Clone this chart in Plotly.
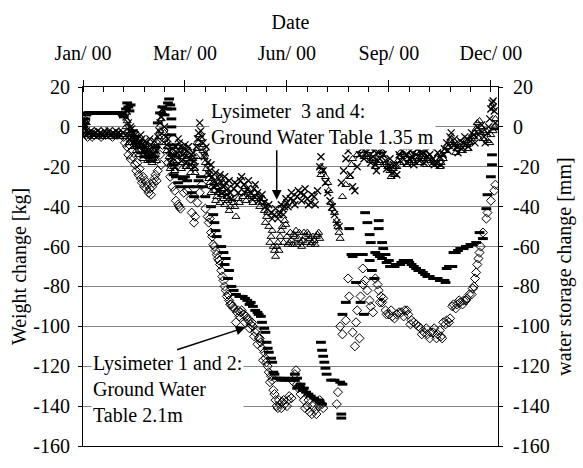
import plotly.graph_objects as go

# ---------------- data (day of year 2000, weight change in kg) ----------------
tick_days = [0, 90, 180, 270, 360]
tick_labels = ["Jan/ 00", "Mar/ 00", "Jun/ 00", "Sep/ 00", "Dec/ 00"]
y_ticks = [20, 0, -20, -40, -60, -80, -100, -120, -140, -160]
y_tick_labels = ["20", "0", "-20", "-40", "-60", "-80", "-100", "-120", "-140", "-160"]

# Lysimeter 1 (open diamonds)
lys1_day = [0, 1, 1, 2, 2, 3, 4, 6, 8, 10, 12, 14, 16, 18, 20, 22, 24, 26, 28, 30, 32, 34, 36,
            37, 39, 40, 41, 42, 43, 44, 46, 47, 48, 49, 50, 51, 52, 53, 54, 55, 56, 57, 58, 59, 60,
            61, 62, 63, 64, 65, 66, 68, 69, 70, 71, 72, 75, 77, 79, 81, 82, 84, 85, 86, 89, 92, 95,
            96, 98, 99, 101, 103, 105, 108, 110, 111, 113, 115, 116, 118, 119, 121, 122, 124, 126,
            128, 129, 131, 132, 135, 137, 139, 142, 144, 146, 148, 150, 152, 155, 157, 158, 160,
            161, 163, 164, 166, 167, 168, 170, 171, 174, 176, 178, 181, 184,
            187, 189, 192, 195, 198, 202, 205, 208, 211, 224, 225,
            227, 229, 232, 234, 235, 238, 240, 241, 242, 244, 245, 247, 247, 249, 251, 253, 254, 256,
            260, 261, 263, 264, 267, 270, 273, 277, 281, 284, 287, 290, 292, 296, 298, 301, 304, 307,
            310, 313, 316, 318, 321, 324, 327, 330, 333, 336, 339, 343, 344, 346, 347, 348, 350,
            351, 353, 356, 357, 360, 363, 364,
            112, 114, 117, 120, 123, 125, 127, 130, 133, 136, 138, 140, 143, 145, 147, 149, 151, 153,
            154, 156, 159, 162, 165, 169, 172, 173, 175, 177, 180, 182, 186, 188, 190, 193, 196, 199,
            200, 203, 206, 209, 212,
            258, 262, 265, 268, 272, 275, 279, 283, 286, 289, 294, 299, 303, 306, 309, 312, 315, 317,
            320, 323, 326, 329, 332, 335, 338, 341, 345, 349]
lys1_val = [0, 2, -2, 3, -3, -4, -5, -4, -5, -4, -3, -4, -5, -4, -4, -3, -4, -5, -4, -4, -3, -4, -5,
            -8, -10, -14, -9, -16, -12, -15, -19, -22, -18, -24, -21, -26, -28, -25, -30, -27, -31, -29, -33, -31, -34,
            -30, -28, -26, -24, -27, -22, -14, -19, -9, -2, -6, -18, -25, -30, -32, -37, -39, -40, -41, -33, -32, -36,
            -43, -48, -45, -38, -33, -29, -41, -45, -48, -53, -59, -60, -64, -66, -69, -72, -77, -82,
            -84, -87, -89, -90, -98, -92, -93, -94, -95, -97, -99, -100, -103, -106, -108, -111, -113,
            -116, -120, -123, -125, -127, -132, -137, -140, -139, -138, -139, -137, -136,
            -124, -129, -134, -137, -140, -144, -142, -140, -139, -139, -133,
            -100, -104, -97, -76, -85, -103, -110, -98, -92, -106, -85, -79, -71, -77, -82, -87, -90, -93,
            -79, -82, -85, -88, -92, -94, -95, -94, -93, -92, -94, -97, -98, -100, -101, -103, -104, -103,
            -101, -104, -105, -98, -97, -96, -89, -89, -88, -87, -86, -84, -81, -76, -73, -69, -63,
            -60, -53, -46, -43, -37, -32, -29,
            -46, -55, -62, -67, -75, -80, -85, -89, -91, -93, -95, -92, -98, -96, -101, -98, -105, -102,
            -109, -106, -117, -118, -128, -134, -141, -137, -141, -137, -140, -135, -128, -122, -131, -131, -141, -137,
            -143, -140, -144, -137, -141,
            -76, -88, -86, -94, -92, -96, -93, -95, -92, -99, -99, -104, -101, -106, -103, -106, -102, -106,
            -99, -98, -90, -91, -87, -89, -87, -84, -80, -66]

# Lysimeter 2 (black dashes)
lys2_day = [0, 1, 2, 3, 4, 5, 6, 7, 8, 9, 10, 11, 12, 13, 14, 15, 16, 17, 18, 19, 20, 21, 22, 23, 24,
            25, 26, 27, 28, 29, 30, 31, 32, 33, 34, 35, 36, 38, 39, 40, 41, 42,
            44, 46, 48, 50, 52, 54, 56, 58, 60, 62, 64, 66, 68, 70, 72, 74, 75, 76, 77, 78,
            78, 78, 78, 79, 79, 80, 80, 82, 84, 86, 88, 90, 92, 94, 96, 98, 100, 102, 104, 106, 108,
            113, 115, 116, 117, 118, 122, 124, 125, 126, 128, 131, 135, 141, 145, 148, 152, 155, 158,
            161, 162, 164, 167, 168, 171, 175, 181, 185, 189, 194,
            187, 189, 192, 195, 199, 204, 208, 211, 210, 211, 212, 213, 214, 215, 219, 222, 227, 229,
            228, 228, 229, 232, 237, 245, 241, 245, 248, 253, 255, 257,
            249, 251, 261, 261, 253, 254, 235, 238, 247, 264, 265, 267, 270,
            258, 264, 273, 275, 278, 281, 285, 288, 292, 296, 300, 304, 309, 313, 317, 320,
            321, 326, 327, 331, 336, 340, 344, 350, 353, 356, 357, 360, 361, 361, 364,
            129, 133, 138, 143, 147, 150, 154, 157, 160, 163, 166, 169, 173, 178, 183, 187, 191, 197,
            201, 206, 209,
            260, 262, 268, 271, 276, 280, 283, 287, 290, 294, 298, 302, 306, 311, 315, 319, 323, 329,
            333, 338, 342, 347]
lys2_val = [0, 2, 4, 6, 7, 7, 7, 7, 7, 7, 7, 7, 7, 7, 7, 7, 7, 7, 7, 7, 7, 7, 7, 7, 7,
            7, 7, 7, 7, 7, 7, 7, 7, 7, 7, 6, 5, 9, 12, 10, 8, 11,
            -2, -5, -8, -10, -13, -15, -12, -14, -17, -15, -10, 2, 7, 10, 6, 9, 12, 14, 11, 9,
            4, 0, -4, -9, -14, -19, -24, -25, -28, -30, -26, -25, -27, -30, -33, -35, -30, -27, -25, -30, -35,
            -40, -44, -48, -52, -55, -60, -63, -69, -66, -76, -80, -84, -85, -87, -88, -92, -94, -98,
            -103, -108, -113, -118, -123, -126, -127, -126, -127, -131, -132,
            -124, -126, -129, -131, -134, -136, -137, -139, -108, -112, -115, -118, -121, -124, -127, -127, -128, -129,
            -144, -146, -94, -88, -64, -64, -78, -88, -94, -67, -72, -76,
            -43, -48, -47, -51, -54, -58, -51, -65, -64, -58, -61, -64, -67,
            -63, -66, -70, -70, -69, -68, -67, -68, -70, -72, -73, -75, -76, -76, -77, -78,
            -71, -70, -63, -62, -61, -60, -59, -53, -56, -41, -34, -25, -19, -14, -1,
            -72, -82, -85, -86, -89, -90, -93, -95, -101, -111, -116, -124, -126, -127, -127, -127, -130, -133,
            -135, -137, -138,
            -64, -65, -68, -70, -69, -69, -67, -67, -69, -71, -72, -74, -75, -76, -77, -77, -70, -63,
            -61, -60, -59, -58]

# Lysimeter 3 (open triangles)
lys3_day = [0, 2, 3, 5, 7, 9, 11, 13, 15, 17, 19, 21, 23, 25, 27, 29, 31, 33, 35,
            38, 39, 40, 41, 42, 43, 44, 45, 46, 47, 48, 50, 52, 54, 56, 58, 60, 62, 64, 66, 68, 69, 70,
            72, 73, 74, 76, 78, 80, 82, 84, 86, 88, 90, 92, 94, 96, 98, 100, 102, 103, 104, 106, 108,
            110, 112, 114, 116, 118, 120, 122, 124, 126, 128, 130, 133, 135, 137, 140, 143, 146, 149,
            152, 155, 158, 160, 162, 164, 166, 168, 170, 172, 174, 176, 178, 180, 182, 184, 186, 188,
            190, 192, 194, 196, 198, 200, 202, 204, 206, 208, 210, 210, 214, 217, 219, 222, 225, 227,
            229, 232, 235, 237, 238, 242, 247, 250, 253, 256, 258, 261, 264, 268, 271, 275, 278, 281,
            284, 287, 290, 293, 296, 299, 301, 304, 307, 310, 313, 316, 318, 321, 324, 327, 330, 333,
            336, 339, 341, 344, 346, 348, 351, 354, 357, 360, 363, 364,
            41, 43, 45, 47, 49, 51, 53, 55, 57, 59, 61, 63, 65, 67,
            75, 77, 79, 81, 83, 85, 87, 89, 91, 93, 95, 97, 99, 101,
            105, 107, 109, 111, 113, 115, 117, 119, 121, 123, 125, 127, 129, 131, 134, 138, 141, 144,
            147, 150, 153, 156, 159, 161, 163, 165, 167, 169, 171, 173, 175, 177, 179, 181, 183, 185,
            187, 189, 191, 193, 195, 197, 199, 201, 203, 205, 207, 209, 211, 216, 220, 224, 226,
            248, 251, 254, 257, 260, 263, 266, 269, 272, 274, 277, 280, 283, 286, 289, 292, 295, 298,
            300, 303, 306, 309, 312, 315, 317, 320, 323, 326, 329, 332, 335, 338, 340, 343, 345, 347,
            350, 353, 356, 359, 362]
lys3_val = [0, -2, 2, -4, -3, -5, -4, -3, -4, -5, -4, -3, -4, -5, -4, -3, -4, -5, -4,
            0, 3, -2, -5, -3, -8, -6, -10, -7, -12, -9, -12, -10, -14, -11, -15, -12, -16, -14, -8, -2, 4, 7,
            -3, -8, -12, -15, -18, -20, -14, -10, -15, -18, -13, -16, -20, -18, -21, -15, -8, -4, -6, -12, -18,
            -24, -28, -30, -32, -35, -30, -34, -36, -33, -37, -40, -38, -45, -36, -33, -30, -32, -35,
            -33, -35, -38, -42, -45, -50, -55, -60, -65, -58, -55, -50, -47, -55, -58, -57, -54, -52,
            -56, -58, -57, -55, -53, -56, -58, -57, -55, -53, -24, -20, -25, -32, -38, -43, -50, -56,
            -35, -29, -25, -19, -16, -14, -12, -15, -12, -16, -20, -17, -14, -18, -22, -24, -17, -15,
            -14, -16, -17, -15, -16, -15, -14, -16, -17, -18, -19, -18, -16, -10, -7, -9, -11, -10,
            -9, -9, -8, -5, -3, 2, 0, -3, -7, -4, 0, 4,
            -8, -4, -6, -9, -14, -8, -16, -9, -17, -10, -18, -12, -17, -5,
            -10, -21, -14, -22, -17, -12, -21, -15, -20, -14, -23, -16, -23, -11,
            -9, -15, -21, -26, -33, -28, -37, -33, -38, -31, -39, -35, -42, -36, -40, -38, -35, -37,
            -34, -38, -36, -40, -36, -48, -43, -58, -52, -62, -60, -62, -52, -58, -49, -59, -53, -59,
            -55, -59, -53, -60, -53, -58, -54, -59, -55, -59, -54, -56, -22, -28, -41, -47, -53,
            -15, -14, -17, -16, -18, -12, -19, -20, -25, -21, -20, -13, -18, -19, -14, -18, -13, -18,
            -16, -19, -15, -19, -16, -20, -14, -12, -10, -8, -13, -8, -12, -7, -11, -6, -5, -1,
            3, -6, -2, -8, -2]

# Lysimeter 4 (crosses)
lys4_day = [0, 1, 1, 3, 5, 7, 9, 11, 13, 15, 17, 19, 21, 23, 25, 27, 29, 31, 33, 35,
            38, 39, 40, 41, 42, 43, 44, 45, 46, 47, 48, 50, 52, 54, 56, 58, 60, 62, 64, 66, 68, 70, 71,
            72, 73, 74, 76, 78, 80, 82, 84, 86, 88, 90, 92, 94, 96, 98, 100, 102, 103, 104, 106, 108,
            110, 112, 114, 116, 118, 120, 122, 124, 126, 128, 130, 133, 136, 139, 142, 145, 148, 151,
            154, 157, 160, 163, 166, 169, 172, 174, 176, 178, 180, 183, 186, 189, 192, 195, 198, 201,
            204, 207, 209, 210, 212, 214, 216, 218, 220, 222, 224, 226, 228, 230, 232, 234, 236, 238,
            240, 242, 244, 246, 250, 253, 256, 258, 261, 264, 267, 270, 273, 276, 279, 282, 285, 288,
            291, 294, 297, 300, 303, 306, 309, 312, 315, 318, 321, 324, 327, 330, 333, 336, 339, 342,
            345, 348, 351, 354, 357, 359, 361, 362, 363, 364,
            41, 43, 45, 47, 49, 51, 53, 55, 57, 59, 61, 63, 65, 67, 69,
            75, 77, 79, 81, 83, 85, 87, 89, 91, 93, 95, 97, 99, 101,
            105, 107, 109, 111, 113, 115, 117, 119, 121, 123, 125, 127, 129, 131, 134, 137, 140, 143,
            146, 149, 152, 155, 158, 161, 164, 167, 170, 173, 175, 177, 179, 181, 184, 187, 190, 193,
            196, 199, 202, 205,
            248, 251, 254, 257, 259, 262, 265, 268, 271, 274, 277, 280, 283, 286, 289, 292, 295, 298,
            301, 304, 307, 310, 313, 316, 319, 322, 325, 328, 331, 334, 337, 340, 343, 346, 349, 352,
            355, 358, 360, 362]
lys4_val = [0, 3, -3, -2, -3, -2, -4, -3, -2, -3, -4, -2, -3, -2, -4, -3, -2, -3, -4, -3,
            5, 8, 2, -2, 0, -5, -3, -7, -4, -9, -6, -8, -6, -10, -8, -12, -9, -13, -10, -5, 2, 9, 8,
            0, -5, -9, -12, -15, -16, -10, -6, -10, -14, -9, -12, -16, -14, -17, -10, -3, 2, -2, -8, -13,
            -18, -22, -25, -27, -29, -26, -28, -30, -28, -31, -33, -31, -29, -27, -29, -31, -33, -31,
            -33, -36, -38, -41, -43, -44, -46, -43, -41, -40, -38, -36, -37, -35, -33, -34, -36, -38,
            -35, -32, -20, -15, -22, -28, -33, -37, -40, -44, -48, -50, -28, -22, -16, -12, -24, -30,
            -32, -20, -14, -11, -13, -10, -15, -19, -13, -11, -17, -20, -23, -19, -14, -12, -14, -16,
            -15, -14, -17, -13, -12, -14, -16, -18, -15, -14, -8, -5, -9, -10, -7, -8, -6, -7,
            -4, 0, -2, -5, -3, 4, 12, 10, 8, 2,
            -6, -1, -3, -5, -10, -4, -12, -7, -14, -6, -15, -7, -12, -2, 5,
            -6, -18, -11, -20, -13, -8, -17, -11, -18, -10, -19, -13, -20, -6,
            -5, -15, -10, -24, -19, -30, -23, -32, -24, -33, -25, -34, -27, -36, -28, -33, -25, -33,
            -27, -36, -29, -37, -34, -40, -39, -46, -41, -44, -39, -44, -36, -40, -33, -39, -32, -37,
            -31, -39, -34, -39,
            -16, -9, -18, -12, -22, -16, -14, -21, -16, -19, -24, -17, -10, -18, -12, -19, -11, -13,
            -18, -15, -10, -19, -13, -19, -11, -12, -3, -6, -13, -11, -5, -10, -3, -8, -4, 1,
            -8, 0, 9, 13]

# ---------------- figure ----------------
FONT = "Liberation Serif, Times New Roman, serif"
fig = go.Figure()

fig.add_trace(go.Scatter(x=lys1_day, y=lys1_val, mode="markers", name="Lysimeter 1",
                         marker=dict(symbol="diamond-open", size=7, color="black",
                                     line=dict(width=1, color="black"))))
fig.add_trace(go.Scatter(x=lys2_day, y=lys2_val, mode="markers", name="Lysimeter 2",
                         marker=dict(symbol="line-ew", size=7, color="black",
                                     line=dict(width=3, color="black"))))
fig.add_trace(go.Scatter(x=lys3_day, y=lys3_val, mode="markers", name="Lysimeter 3",
                         marker=dict(symbol="triangle-up-open", size=7, color="black",
                                     line=dict(width=1, color="black"))))
fig.add_trace(go.Scatter(x=lys4_day, y=lys4_val, mode="markers", name="Lysimeter 4",
                         marker=dict(symbol="x-thin-open", size=7, color="black",
                                     line=dict(width=1.3, color="black"))))
# same scale in mm on the right axis
fig.add_trace(go.Scatter(x=[tick_days[0]], y=[y_ticks[1]], yaxis="y2", mode="markers",
                         marker=dict(opacity=0), showlegend=False, hoverinfo="skip"))

fig.update_layout(
    width=583, height=468,
    margin=dict(l=83, r=74, t=87, b=11),
    paper_bgcolor="white", plot_bgcolor="white",
    showlegend=False,
    font=dict(family=FONT, size=20, color="black"),
    xaxis=dict(
        range=[0, 366.3], side="top",
        tickmode="array", tickvals=tick_days, ticktext=tick_labels,
        ticks="outside", ticklen=6, tickcolor="black", tickwidth=1,
        ticklabelstandoff=12,
        minor=dict(tickmode="linear", tick0=0, dtick=18, ticks="inside", ticklen=5,
                   tickcolor="black", tickwidth=1, showgrid=False),
        showline=True, linecolor="black", linewidth=1, mirror=True,
        showgrid=False, zeroline=False,
        tickfont=dict(family=FONT, size=20),
        title=dict(text="Date", font=dict(family=FONT, size=20), standoff=7),
    ),
    yaxis=dict(
        range=[-160, 20], tickmode="array", tickvals=y_ticks, ticktext=y_tick_labels,
        ticks="outside", ticklen=4, tickcolor="black", ticklabelstandoff=4,
        showline=True, linecolor="black", linewidth=1, mirror=True,
        showgrid=True, gridcolor="#858585", gridwidth=1, zeroline=False,
        tickfont=dict(family=FONT, size=20),
        title=dict(text="Weight change [kg]", font=dict(family=FONT, size=20), standoff=1),
    ),
    yaxis2=dict(
        range=[-160, 20], tickmode="array", tickvals=y_ticks, ticktext=y_tick_labels,
        overlaying="y", side="right",
        ticks="outside", ticklen=4, tickcolor="black", ticklabelstandoff=6,
        showline=True, linecolor="black", linewidth=1,
        showgrid=False, zeroline=False,
        tickfont=dict(family=FONT, size=20),
        title=dict(text="water storage change [mm]", font=dict(family=FONT, size=20), standoff=8),
    ),
)

fig.add_annotation(xref="paper", yref="paper", x=(212 - 83) / 426, y=(457 - 125) / 370,
                   xanchor="left", yanchor="middle", align="left", showarrow=False,
                   text="Lysimeter  3 and 4:<br>Ground Water Table 1.35 m",
                   bgcolor="white", font=dict(family=FONT, size=20))
fig.add_annotation(xref="paper", yref="paper", x=(91 - 83) / 426, y=(457 - 398) / 370,
                   xanchor="left", yanchor="middle", align="left", showarrow=False,
                   text="Lysimeter 1 and 2:<br>Ground Water<br>Table 2.1m",
                   bgcolor="white", font=dict(family=FONT, size=20))
# arrows
fig.add_annotation(x=171, y=-36.5, ax=0, ay=-51, axref="pixel", ayref="pixel",
                   text="", showarrow=True, arrowhead=2, arrowsize=1.3, arrowwidth=1.5,
                   arrowcolor="black")
fig.add_annotation(x=143.5, y=-100.5, ax=-70, ay=23, axref="pixel", ayref="pixel",
                   text="", showarrow=True, arrowhead=2, arrowsize=1.3, arrowwidth=1.5,
                   arrowcolor="black")

fig.write_html("out.html")
